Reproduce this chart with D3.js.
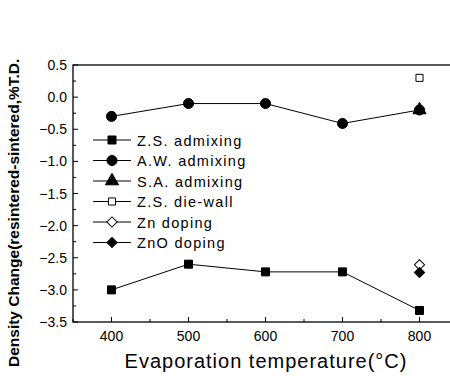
<!DOCTYPE html>
<html>
<head>
<meta charset="utf-8">
<script src="https://cdn.jsdelivr.net/npm/d3@7"></script>
<style>
  html, body { margin: 0; padding: 0; background: #fff; }
  svg { display: block; font-family: "Liberation Sans", Arial, sans-serif; }
</style>
</head>
<body>
<svg id="chart" width="450" height="376"></svg>
<script>
// temperatures (°C) and density change (%T.D.)
const temps = [400, 500, 600, 700, 800];
const zsAdmixing = [-3.0, -2.6, -2.72, -2.72, -3.32];
const awAdmixing = [-0.3, -0.1, -0.1, -0.41, -0.2];
const saAdmixing = [[800, -0.2]];
const zsDieWall = [[800, 0.3]];
const znDoping = [[800, -2.61]];
const znoDoping = [[800, -2.73]];
const legendLabels = ["Z.S. admixing", "A.W. admixing", "S.A. admixing", "Z.S. die-wall", "Zn doping", "ZnO doping"];
const yTicks = [0.5, 0.0, -0.5, -1.0, -1.5, -2.0, -2.5, -3.0, -3.5];

const svg = d3.select("#chart");
const mLeft = 73, mTop = 65, mRight = 458, mBottom = 322;

const x = d3.scaleLinear().domain([350, 850]).range([mLeft, mRight]);
const y = d3.scaleLinear().domain([-3.5, 0.5]).range([mBottom, mTop]);

// frame
svg.append("rect")
  .attr("x", mLeft).attr("y", mTop)
  .attr("width", mRight - mLeft).attr("height", mBottom - mTop)
  .attr("fill", "none").attr("stroke", "#000").attr("stroke-width", 1.3);

// inward ticks — y
const gy = svg.append("g");
d3.range(-3.5, 0.5001, 0.25).forEach(v => {
  const major = Math.abs(v * 2 - Math.round(v * 2)) < 1e-6;
  gy.append("line")
    .attr("x1", mLeft).attr("x2", mLeft + (major ? 5 : 3))
    .attr("y1", y(v)).attr("y2", y(v))
    .attr("stroke", "#000").attr("stroke-width", 1);
});
gy.selectAll("text").data(yTicks).enter().append("text")
  .attr("x", mLeft - 6).attr("y", d => y(d) + 5)
  .attr("text-anchor", "end")
  .attr("font-size", 14)
  .text(d => d3.format(".1f")(d));

// inward ticks — x
const gx = svg.append("g");
d3.range(350, 851, 50).forEach(v => {
  const major = v % 100 === 0;
  gx.append("line")
    .attr("x1", x(v)).attr("x2", x(v))
    .attr("y1", mBottom).attr("y2", mBottom - (major ? 5 : 3))
    .attr("stroke", "#000").attr("stroke-width", 1);
});
gx.selectAll("text").data(temps).enter().append("text")
  .attr("x", d => x(d)).attr("y", mBottom + 19)
  .attr("text-anchor", "middle")
  .attr("font-size", 14)
  .text(d => d);

// axis titles
svg.append("text")
  .attr("x", 266).attr("y", 368)
  .attr("text-anchor", "middle")
  .attr("font-size", 20)
  .attr("letter-spacing", 1)
  .text("Evaporation temperature(°C)");

svg.append("text")
  .attr("transform", "translate(19,367) rotate(-90)")
  .attr("text-anchor", "start")
  .attr("font-size", 15.5)
  .attr("font-weight", "bold")
  .text("Density Change(resintered-sintered,%T.D.");

// markers
const sym = {
  square: d3.symbol().type(d3.symbolSquare).size(64),
  circle: d3.symbol().type(d3.symbolCircle).size(80),
  triangle: d3.symbol().type(d3.symbolTriangle).size(75),
  openSquare: d3.symbol().type(d3.symbolSquare).size(50),
  diamond: d3.symbol().type(d3.symbolSquare).size(52)
};
const styles = [
  { s: sym.square, fill: "#000", rot: 0 },
  { s: sym.circle, fill: "#000", rot: 0 },
  { s: sym.triangle, fill: "#000", rot: 0 },
  { s: sym.openSquare, fill: "#fff", rot: 0 },
  { s: sym.diamond, fill: "#fff", rot: 45 },
  { s: sym.diamond, fill: "#000", rot: 45 }
];

const line = d3.line().x(d => x(d[0])).y(d => y(d[1]));
const zsPts = temps.map((t, i) => [t, zsAdmixing[i]]);
const awPts = temps.map((t, i) => [t, awAdmixing[i]]);

[zsPts, awPts].forEach(pts => {
  svg.append("path").datum(pts)
    .attr("d", line).attr("fill", "none")
    .attr("stroke", "#000").attr("stroke-width", 1);
});

function drawPoints(pts, st) {
  svg.append("g").selectAll("path").data(pts).enter().append("path")
    .attr("transform", d => `translate(${x(d[0])},${y(d[1])}) rotate(${st.rot})`)
    .attr("d", st.s)
    .attr("fill", st.fill)
    .attr("stroke", "#000").attr("stroke-width", 1);
}
drawPoints(zsPts, styles[0]);
drawPoints(awPts, styles[1]);
drawPoints(saAdmixing, styles[2]);
drawPoints(zsDieWall, styles[3]);
drawPoints(znDoping, styles[4]);
drawPoints(znoDoping, styles[5]);

// legend
const lg = svg.append("g");
legendLabels.forEach((lab, i) => {
  const ly = 140 + i * 20.5;
  lg.append("line")
    .attr("x1", 93).attr("x2", 131).attr("y1", ly).attr("y2", ly)
    .attr("stroke", "#000").attr("stroke-width", 1);
  lg.append("path")
    .attr("transform", `translate(112,${ly}) rotate(${styles[i].rot})`)
    .attr("d", styles[i].s)
    .attr("fill", styles[i].fill)
    .attr("stroke", "#000").attr("stroke-width", 1);
  lg.append("text")
    .attr("x", 137).attr("y", ly + 5.5)
    .attr("font-size", 14.5)
    .attr("letter-spacing", 1.3)
    .text(lab);
});
</script>
</body>
</html>
